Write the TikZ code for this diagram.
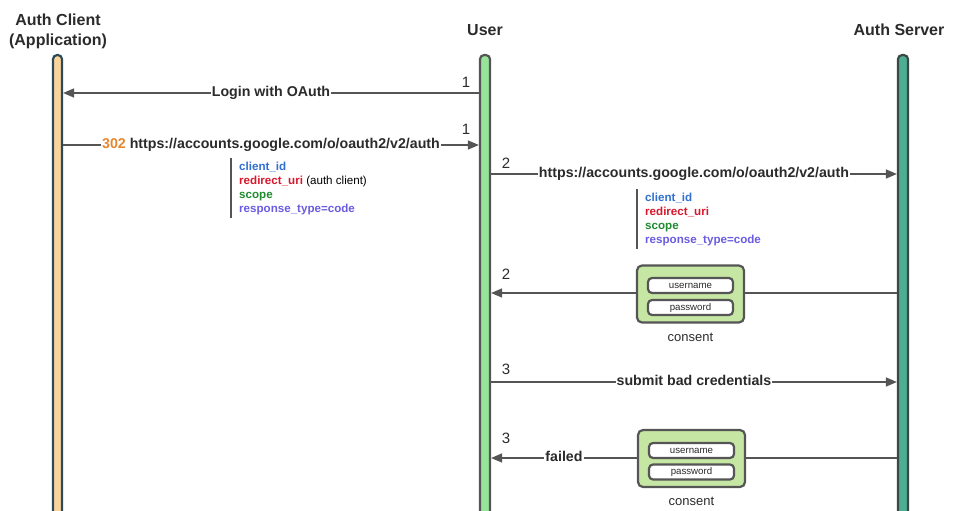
\documentclass[tikz,border=0pt]{standalone}
\usepackage{fontspec}
\setmainfont{Liberation Sans}
\usetikzlibrary{arrows.meta}
\definecolor{linegray}{HTML}{555555}
\definecolor{txt}{HTML}{2B2B2B}
\definecolor{clientfill}{HTML}{FBD49C}
\definecolor{clientline}{HTML}{2E4A5A}
\definecolor{userfill}{HTML}{98E39A}
\definecolor{userline}{HTML}{555555}
\definecolor{serverfill}{HTML}{4DAE91}
\definecolor{serverline}{HTML}{3A4848}
\definecolor{consentfill}{HTML}{C6E6A3}
\definecolor{cblue}{HTML}{2F6FD0}
\definecolor{cred}{HTML}{D8172C}
\definecolor{cgreen}{HTML}{1E8B2E}
\definecolor{cpurple}{HTML}{6B5BE0}
\definecolor{corange}{HTML}{E8862E}
\begin{document}
\begin{tikzpicture}[x=1pt,y=-1pt,
  lifeline/.style={draw, line width=2.2pt, rounded corners=4pt, minimum width=10pt, minimum height=480pt, anchor=north, inner sep=0pt},
  ttl/.style={font=\fontsize{16}{20}\selectfont\bfseries, text=txt, align=center},
  msg/.style={draw=linegray, line width=1.5pt, -{Triangle[length=11pt,width=9pt]}},
  plain/.style={draw=linegray, line width=1.5pt},
  lbl/.style={font=\fontsize{14.2}{16}\selectfont\bfseries, text=txt, fill=white, inner xsep=1pt, inner ysep=1pt, text height=10pt, text depth=3pt},
  num/.style={font=\fontsize{15}{17}\selectfont, text=txt},
  note/.style={font=\fontsize{11.6}{14}\selectfont\bfseries, align=left, anchor=north west, inner xsep=8pt, inner ysep=0pt, minimum height=60pt},
  notebar/.style={draw=linegray, line width=2pt},
  consent/.style={draw=userline, fill=consentfill, line width=2.2pt, rounded corners=5pt, minimum width=107pt, minimum height=57pt, inner sep=0pt},
  field/.style={draw=userline, fill=white, line width=2.2pt, rounded corners=4pt, minimum width=85pt, minimum height=15pt, inner sep=0pt, font=\fontsize{9.7}{11}\selectfont, text=txt},
  captxt/.style={font=\fontsize{13}{15}\selectfont, text=txt}
]
\useasboundingbox (0,0) rectangle (956,511);
\clip (0,0) rectangle (956,511);

% titles
\node[ttl] (tclient) at (58,31) {Auth Client\\(Application)};
\node[ttl] (tuser) at (485,30) {User};
\node[ttl] (tserver) at (899,30) {Auth Server};

% lifelines
\node[lifeline, fill=clientfill, draw=clientline, minimum width=9pt] (client) at (57.5,54) {};
\node[lifeline, fill=userfill, draw=userline] (user) at (485,54) {};
\node[lifeline, fill=serverfill, draw=serverline] (server) at (903,54) {};

% message rows
\coordinate (m1) at (0,93);
\coordinate (m2) at (0,145);
\coordinate (m3) at (0,174);
\coordinate (m4) at (0,293);
\coordinate (m5) at (0,382);
\coordinate (m6) at (0,458);

% 1: login with OAuth
\draw[msg] (user.west |- m1) -- node[lbl] (l1) {Login with OAuth} (client.east |- m1);
\node[num] (n1) at (466,82) {1};

% 1: 302 redirect
\draw[msg] (client.east |- m2) -- node[lbl] (l2) {\textcolor{corange}{302} https://accounts.google.com/o/oauth2/v2/auth} (user.west |- m2);
\node[num] (n2) at (466,129) {1};
\node[note] (note1) at (231,158) {\textcolor{cblue}{client\_id}\\\textcolor{cred}{redirect\_uri} {\mdseries (auth client)}\\\textcolor{cgreen}{scope}\\\textcolor{cpurple}{response\_type=code}};
\draw[notebar] (note1.north west) -- (note1.south west);

% 2: request to auth server
\draw[msg] (user.east |- m3) -- node[lbl] (l3) {https://accounts.google.com/o/oauth2/v2/auth} (server.west |- m3);
\node[num] (n3) at (506,163) {2};
\node[note] (note2) at (637,189) {\textcolor{cblue}{client\_id}\\\textcolor{cred}{redirect\_uri}\\\textcolor{cgreen}{scope}\\\textcolor{cpurple}{response\_type=code}};
\draw[notebar] (note2.north west) -- (note2.south west);

% 2: consent page
\node[consent] (consent1) at (690.5,294) {};
\node[field] (user1) at (690.5,285.5) {username};
\node[field] (pass1) at (690.5,307.5) {password};
\node[captxt] (cap1) at (690.5,337) {consent};
\draw[plain] (server.west |- m4) -- (consent1.east |- m4);
\draw[msg] (consent1.west |- m4) -- (user.east |- m4);
\node[num] (n4) at (506,274) {2};

% 3: submit bad credentials
\draw[msg] (user.east |- m5) -- node[lbl] (l5) {submit bad credentials} (server.west |- m5);
\node[num] (n5) at (506,369) {3};

% 3: failed
\node[consent] (consent2) at (691.5,458.5) {};
\node[field] (user2) at (691.5,450.5) {username};
\node[field] (pass2) at (691.5,472) {password};
\node[captxt] (cap2) at (691.5,501) {consent};
\draw[plain] (server.west |- m6) -- (consent2.east |- m6);
\draw[msg] (consent2.west |- m6) -- node[lbl] (l6) {failed} (user.east |- m6);
\node[num] (n6) at (506,438) {3};
\end{tikzpicture}
\end{document}
